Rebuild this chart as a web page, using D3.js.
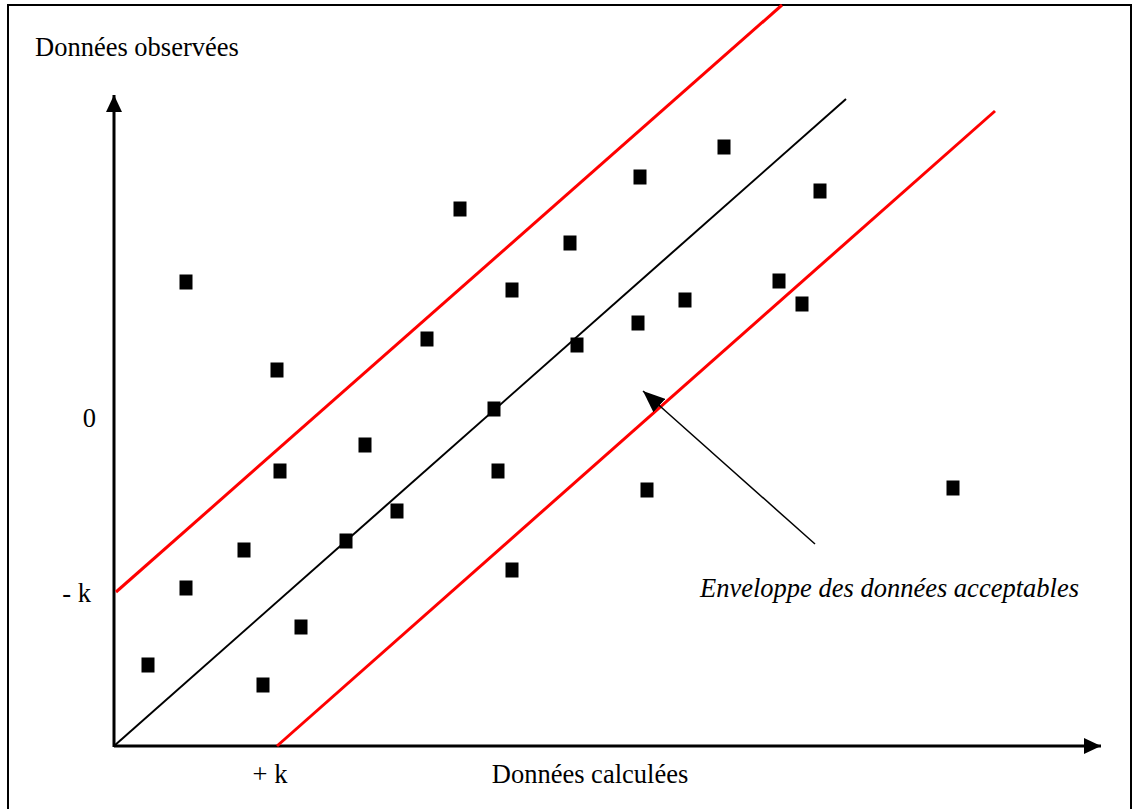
<!DOCTYPE html>
<html>
<head>
<meta charset="utf-8">
<script src="https://cdn.jsdelivr.net/npm/d3@7"></script>
<style>
	body { margin: 0; background: #fff; }
	text { font-family: "Liberation Serif", "Times New Roman", serif; fill: #000; }
</style>
</head>
<body>
<div id="js_chart"></div>
<script>
'use strict';

// observed points (x = calculated, y = observed), in chart units
const pointX = [0.34, 0.72, 0.72, 1.30, 1.49, 1.63, 1.66, 1.87, 2.32, 2.51, 2.83, 3.13, 3.46, 3.80,
	3.84, 3.98, 3.98, 4.56, 4.63, 5.24, 5.26, 5.33, 5.71, 6.10, 6.65, 6.88, 7.06, 8.39];
const pointY = [0.81, 4.64, 1.58, 1.96, 0.61, 3.76, 2.75, 1.19, 2.05, 3.01, 2.35, 4.07, 5.37, 3.37,
	2.75, 4.56, 1.76, 5.03, 4.01, 4.23, 5.69, 2.56, 4.46, 5.99, 4.65, 4.42, 5.55, 2.58];

// bisector and envelope lines [x0, y0, x1, y1]
const identityLine = [0, 0, 7.32, 6.47];
const envelopeLines = [
	[0.02, 1.54, 6.68, 7.41],
	[1.63, 0, 8.81, 6.35]
];

// axis extents and labels
const axisMax = { x: 9.87, y: 6.51 };
const yTicks = [{ value: 3.28, label: '0' }, { value: 1.53, label: '- k' }];
const xTicks = [{ value: 1.56, label: '+ k' }];
const xTitle = 'Données calculées';
const yTitle = 'Données observées';
const note = 'Enveloppe des données acceptables';
const noteArrow = [7.01, 2.02, 5.29, 3.55];

const width = 1133;
const height = 809;
const origin = { x: 114, y: 746 };
const fontSize = '26.5px';

let svg = d3.select('#js_chart').append('svg')
	.attr('width', width)
	.attr('height', height);

let xScale = d3.scaleLinear().domain([0, 1]).range([origin.x, origin.x + 100]);
let yScale = d3.scaleLinear().domain([0, 1]).range([origin.y, origin.y - 100]);

// outer frame
svg.append('rect')
	.attr('x', 8).attr('y', 5)
	.attr('width', 1123).attr('height', 812)
	.style('fill', 'none')
	.style('stroke', '#000')
	.style('stroke-width', 2);

// arrow marker heads
let defs = svg.append('defs');
function addMarker(id, w, h) {
	defs.append('marker')
		.attr('id', id)
		.attr('viewBox', '0 0 ' + w + ' ' + h)
		.attr('refX', w).attr('refY', h / 2)
		.attr('markerWidth', w).attr('markerHeight', h)
		.attr('markerUnits', 'userSpaceOnUse')
		.attr('orient', 'auto')
		.append('path')
		.attr('d', 'M0,0 L' + w + ',' + (h / 2) + ' L0,' + h + 'Z')
		.style('fill', '#000');
}
addMarker('axisHead', 17, 16);
addMarker('noteHead', 22, 18);

// axes
svg.append('line')
	.attr('x1', xScale(0)).attr('y1', yScale(0))
	.attr('x2', xScale(axisMax.x)).attr('y2', yScale(0))
	.style('stroke', '#000').style('stroke-width', 3)
	.attr('marker-end', 'url(#axisHead)');
svg.append('line')
	.attr('x1', xScale(0)).attr('y1', yScale(0) + 1)
	.attr('x2', xScale(0)).attr('y2', yScale(axisMax.y))
	.style('stroke', '#000').style('stroke-width', 3)
	.attr('marker-end', 'url(#axisHead)');

// envelope (red) and bisector (black)
svg.selectAll('.envelope')
	.data(envelopeLines).enter().append('line')
	.classed('envelope', true)
	.attr('x1', d => xScale(d[0])).attr('y1', d => yScale(d[1]))
	.attr('x2', d => xScale(d[2])).attr('y2', d => yScale(d[3]))
	.style('stroke', '#ff0000').style('stroke-width', 3);

svg.append('line')
	.attr('x1', xScale(identityLine[0])).attr('y1', yScale(identityLine[1]))
	.attr('x2', xScale(identityLine[2])).attr('y2', yScale(identityLine[3]))
	.style('stroke', '#000').style('stroke-width', 2);

// points
const sqW = 13;
const sqH = 15;
svg.selectAll('.pt')
	.data(d3.range(pointX.length)).enter().append('rect')
	.classed('pt', true)
	.attr('x', i => xScale(pointX[i]) - sqW / 2)
	.attr('y', i => yScale(pointY[i]) - sqH / 2)
	.attr('width', sqW).attr('height', sqH)
	.style('fill', '#000');

// annotation arrow
svg.append('line')
	.attr('x1', xScale(noteArrow[0])).attr('y1', yScale(noteArrow[1]))
	.attr('x2', xScale(noteArrow[2])).attr('y2', yScale(noteArrow[3]))
	.style('stroke', '#000').style('stroke-width', 1.5)
	.attr('marker-end', 'url(#noteHead)');

// labels
svg.selectAll('.yTick')
	.data(yTicks).enter().append('text')
	.classed('yTick', true)
	.attr('x', (d, i) => i === 0 ? 96 : 91)
	.attr('y', d => yScale(d.value))
	.attr('dy', '.35em')
	.attr('text-anchor', 'end')
	.style('font-size', fontSize)
	.text(d => d.label);

svg.selectAll('.xTick')
	.data(xTicks).enter().append('text')
	.classed('xTick', true)
	.attr('x', d => xScale(d.value))
	.attr('y', 783)
	.attr('text-anchor', 'middle')
	.style('font-size', fontSize)
	.text(d => d.label);

svg.append('text')
	.attr('x', 590).attr('y', 783)
	.attr('text-anchor', 'middle')
	.style('font-size', fontSize)
	.text(xTitle);

svg.append('text')
	.attr('x', 35).attr('y', 56)
	.style('font-size', fontSize)
	.text(yTitle);

svg.append('text')
	.attr('x', 700).attr('y', 597)
	.style('font-size', fontSize)
	.style('font-style', 'italic')
	.text(note);
</script>
</body>
</html>
